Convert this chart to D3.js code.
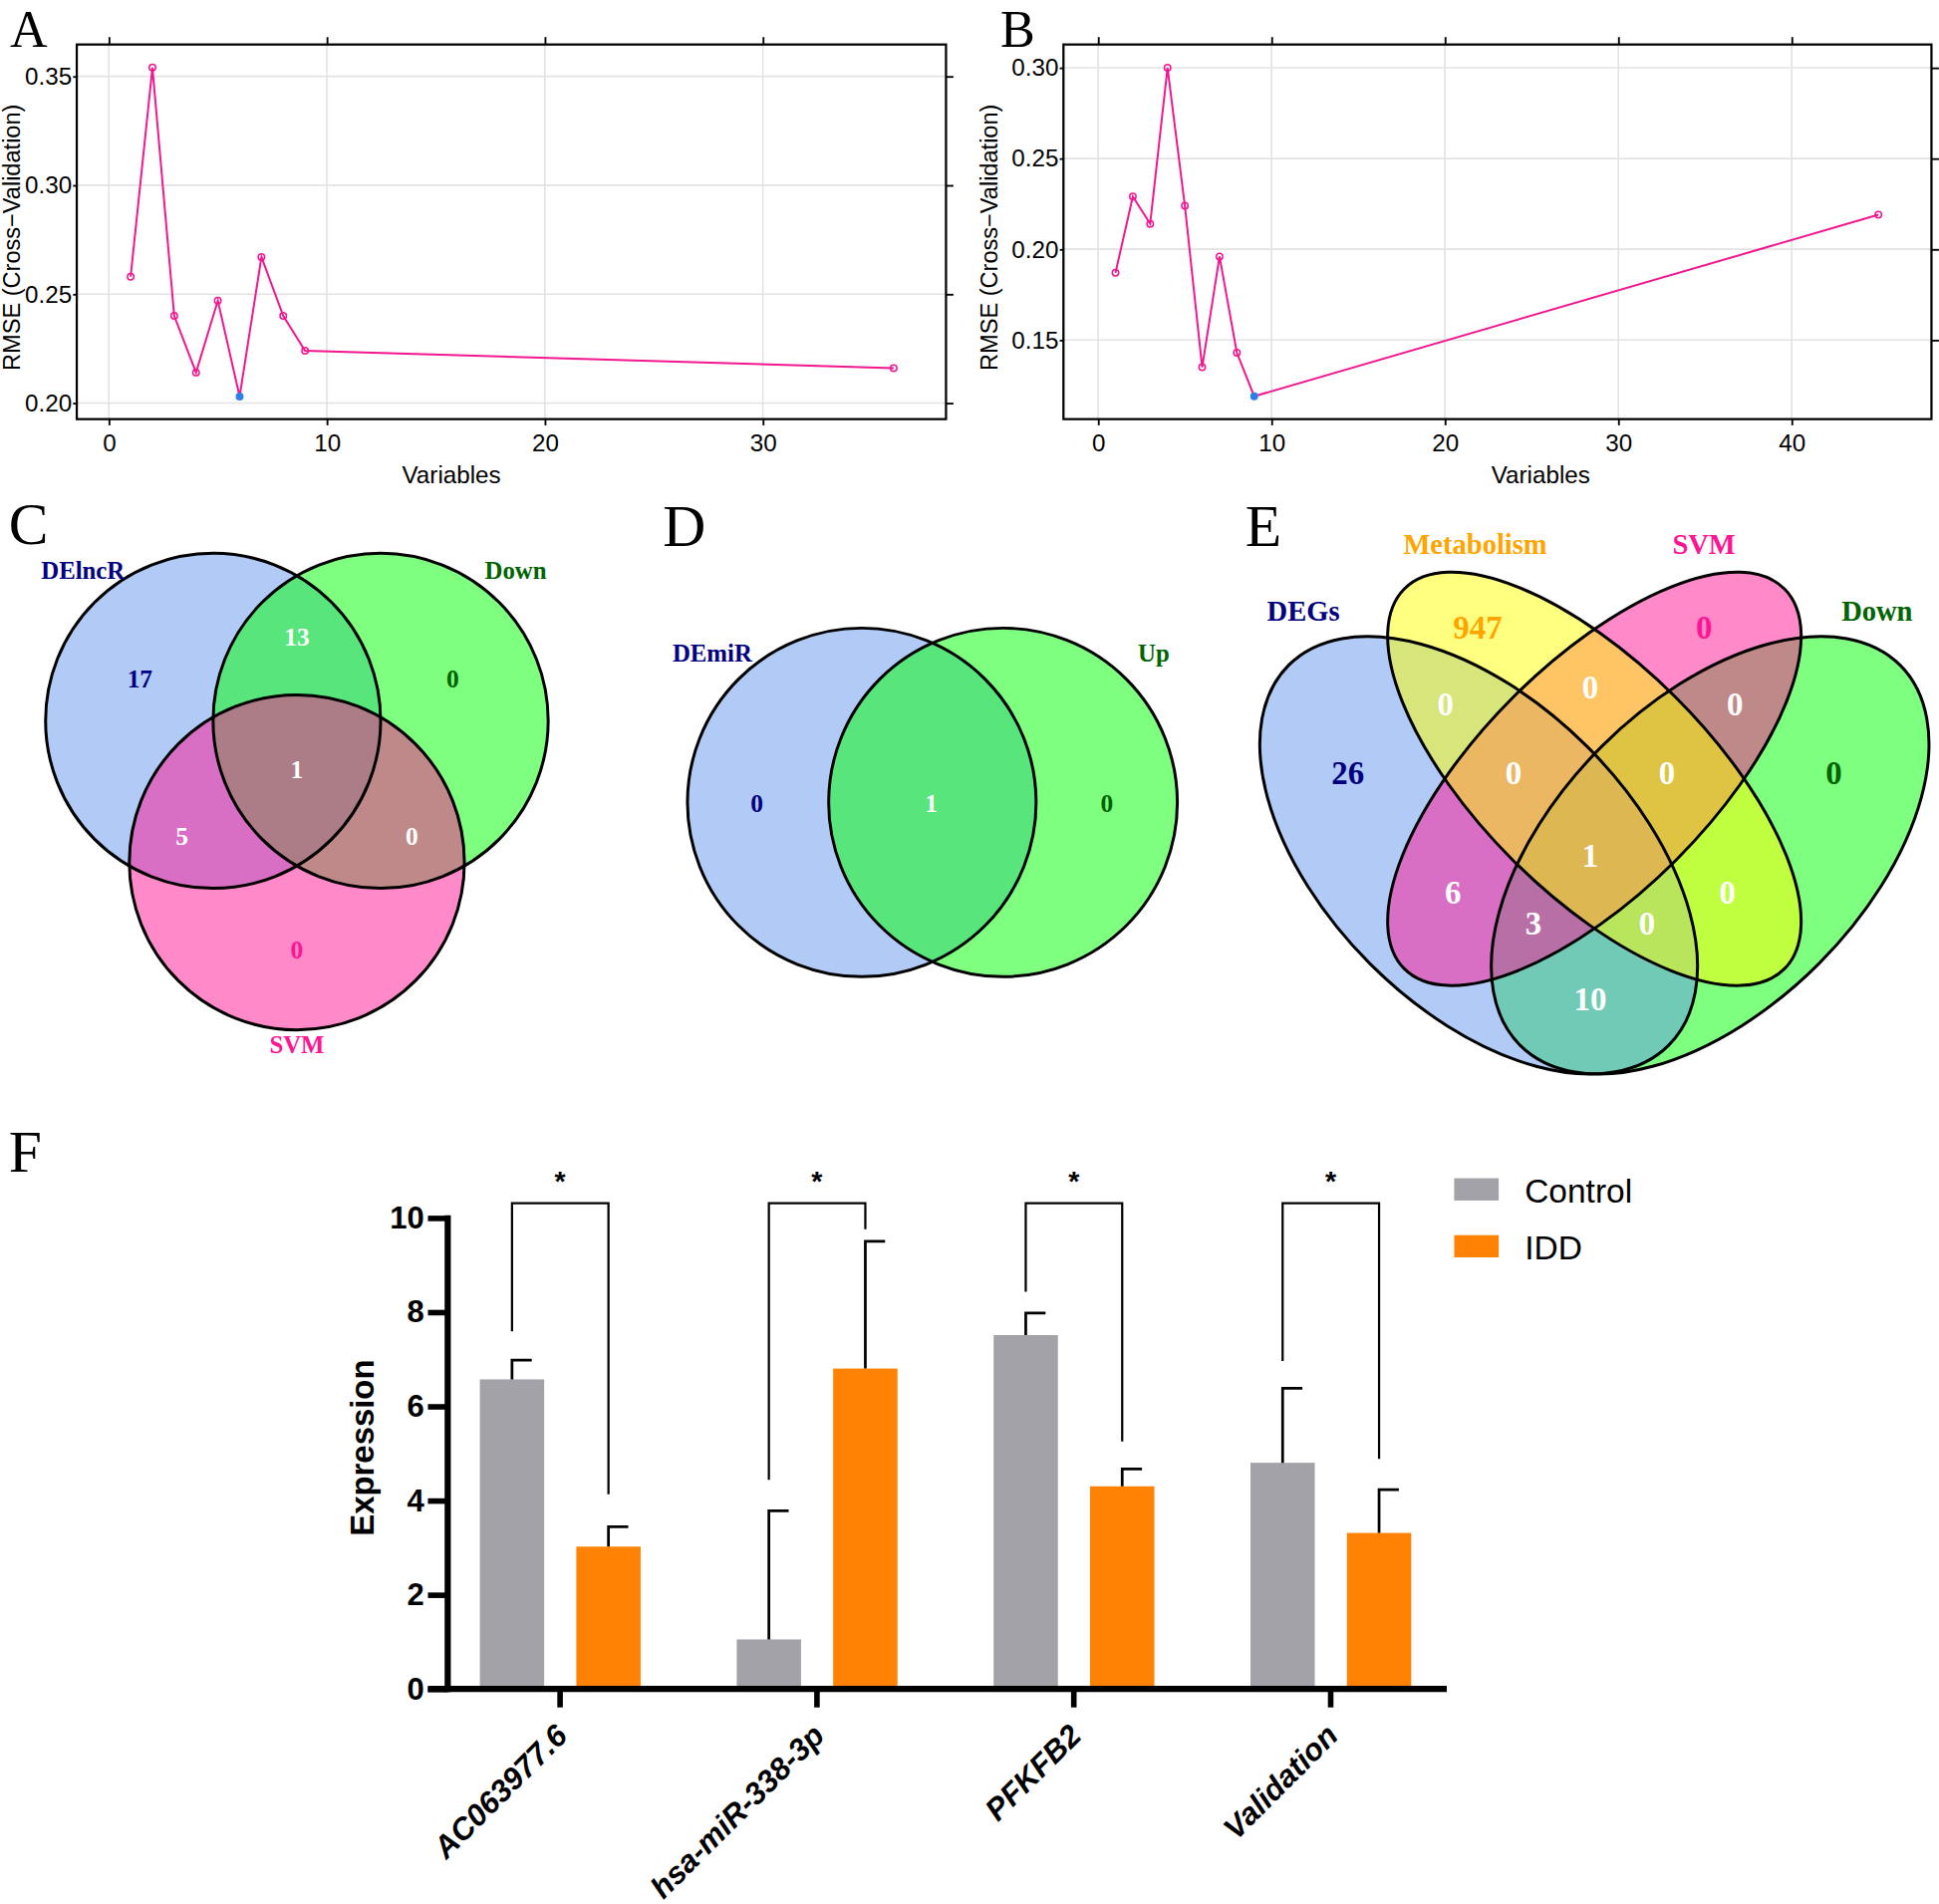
<!DOCTYPE html>
<html><head><meta charset="utf-8">
<script src="https://cdn.jsdelivr.net/npm/d3@7"></script>
<style>body{margin:0;background:#fff} svg{display:block;background:#fff}</style>
</head><body>
<svg id="c" width="1946" height="1911" viewBox="0 0 1568 1540"></svg>
<script>
// ---------------- DATA ----------------
const rfeA_vars = [1, 2, 3, 4, 5, 6, 7, 8, 9, 36];
const rfeA_rmse = [0.258, 0.354, 0.240, 0.214, 0.247, 0.203, 0.267, 0.240, 0.224, 0.216];
const rfeA_xTicks = [0, 10, 20, 30];
const rfeA_yTicks = [0.20, 0.25, 0.30, 0.35];

const rfeB_vars = [1, 2, 3, 4, 5, 6, 7, 8, 9, 45];
const rfeB_rmse = [0.187, 0.229, 0.214, 0.300, 0.224, 0.135, 0.196, 0.143, 0.119, 0.219];
const rfeB_xTicks = [0, 10, 20, 30, 40];
const rfeB_yTicks = [0.15, 0.20, 0.25, 0.30];

const vennC_sets = ["DElncR", "Down", "SVM"];
const vennC_regions = ["DElncR", "DElncR&Down", "Down", "DElncR&Down&SVM", "DElncR&SVM", "Down&SVM", "SVM"];
const vennC_counts = [17, 13, 0, 1, 5, 0, 0];

const vennD_sets = ["DEmiR", "Up"];
const vennD_regions = ["DEmiR", "DEmiR&Up", "Up"];
const vennD_counts = [0, 1, 0];

const vennE_sets = ["DEGs", "Metabolism", "SVM", "Down"];
const vennE_regions = ["DEGs", "Metabolism", "SVM", "Down",
  "DEGs&Metabolism", "Metabolism&SVM", "SVM&Down",
  "DEGs&Metabolism&SVM", "Metabolism&SVM&Down", "all",
  "DEGs&SVM", "DEGs&SVM&Down", "DEGs&Metabolism&Down", "Metabolism&Down", "DEGs&Down"];
const vennE_counts = [26, 947, 0, 0, 0, 0, 0, 0, 0, 1, 6, 3, 0, 0, 10];

const genes = ["AC063977.6", "hsa-miR-338-3p", "PFKFB2", "Validation"];
const groups = ["Control", "IDD"];
const controlMean = [6.57, 1.05, 7.51, 4.80];
const controlErr  = [0.41, 2.73, 0.47, 1.58];
const iddMean     = [3.02, 6.80, 4.30, 3.31];
const iddErr      = [0.42, 2.70, 0.37, 0.92];
const bracketLeft  = [7.59, 4.44, 8.43, 6.96];
const bracketRight = [4.13, 9.76, 5.25, 4.88];
const bracketTop = 10.31;
const expTicks = [0, 2, 4, 6, 8, 10];

// ---------------- DRAW ----------------
const svg = d3.select("#c");
const SANS = "'Liberation Sans', Arial, Helvetica, sans-serif";
const SERIF = "'Liberation Serif', 'Times New Roman', serif";
const PINK = "#f2168f";

function letter(t, x, y, s) {
  svg.append("text").attr("x", x).attr("y", y).text(t)
    .attr("font-family", SERIF).attr("font-size", s || 48).attr("fill", "#000");
}

function rfePanel(o) {
  const g = svg.append("g");
  const x = d3.scaleLinear().domain(o.xDom).range([o.left, o.right]);
  const y = d3.scaleLinear().domain(o.yDom).range([o.bottom, o.top]);
  g.selectAll(".gx").data(o.xTicks).join("line")
    .attr("x1", d => x(d)).attr("x2", d => x(d)).attr("y1", o.top).attr("y2", o.bottom)
    .attr("stroke", "#e3e3e3").attr("stroke-width", 1.3);
  g.selectAll(".gy").data(o.yTicks).join("line")
    .attr("y1", d => y(d)).attr("y2", d => y(d)).attr("x1", o.left).attr("x2", o.right)
    .attr("stroke", "#e3e3e3").attr("stroke-width", 1.3);
  g.append("rect").attr("x", o.left).attr("y", o.top)
    .attr("width", o.right - o.left).attr("height", o.bottom - o.top)
    .attr("fill", "none").attr("stroke", "#000").attr("stroke-width", 1.8);
  const top = g.append("g").attr("transform", `translate(0,${o.top})`)
    .call(d3.axisTop(x).tickValues(o.xTicks).tickSize(6).tickFormat(""));
  const right = g.append("g").attr("transform", `translate(${o.right},0)`)
    .call(d3.axisRight(y).tickValues(o.yTicks).tickSize(6).tickFormat(""));
  const bot = g.append("g").attr("transform", `translate(0,${o.bottom})`)
    .call(d3.axisBottom(x).tickValues(o.xTicks).tickSize(5).tickPadding(7).tickFormat(d3.format("d")));
  const lft = g.append("g").attr("transform", `translate(${o.left},0)`)
    .call(d3.axisLeft(y).tickValues(o.yTicks).tickSize(3).tickPadding(1).tickFormat(d3.format(".2f")));
  [top, right, bot, lft].forEach(a => {
    a.select(".domain").remove();
    a.selectAll("line").attr("stroke", "#000").attr("stroke-width", 1.5);
    a.selectAll("text").attr("font-family", SANS).attr("font-size", 19.5).attr("fill", "#000");
  });
  const pts = o.vars.map((v, i) => ({ x: v, y: o.rmse[i] }));
  const best = d3.minIndex(o.rmse);
  g.append("path").datum(pts)
    .attr("d", d3.line().x(d => x(d.x)).y(d => y(d.y)))
    .attr("fill", "none").attr("stroke", PINK).attr("stroke-width", 1.6);
  g.selectAll(".pt").data(pts).join("circle")
    .attr("cx", d => x(d.x)).attr("cy", d => y(d.y)).attr("r", 2.6)
    .attr("fill", (d, i) => i === best ? "#2f7fe8" : "none")
    .attr("stroke", (d, i) => i === best ? "#2f7fe8" : PINK).attr("stroke-width", 1.2);
  g.append("text").attr("x", o.xtitleX).attr("y", 391).attr("text-anchor", "middle")
    .attr("font-family", SANS).attr("font-size", 19.5).text("Variables");
  g.append("text").attr("transform", `translate(${o.ytitleX},192) rotate(-90)`)
    .attr("text-anchor", "middle").attr("dy", "0.35em")
    .attr("font-family", SANS).attr("font-size", 19).text("RMSE (Cross\u2212Validation)");
}

rfePanel({ vars: rfeA_vars, rmse: rfeA_rmse, xTicks: rfeA_xTicks, yTicks: rfeA_yTicks,
  xDom: [-1.47, 38.4], yDom: [0.1926, 0.3646], left: 62, right: 765, top: 36, bottom: 339,
  ytitleX: 9, xtitleX: 365 });
rfePanel({ vars: rfeB_vars, rmse: rfeB_rmse, xTicks: rfeB_xTicks, yTicks: rfeB_yTicks,
  xDom: [-2.0, 48.06], yDom: [0.1064, 0.3128], left: 860, right: 1562, top: 36, bottom: 339,
  ytitleX: 800, xtitleX: 1246 });

letter("A", 8, 38, 42); letter("B", 809, 38, 42);
letter("C", 7, 440); letter("D", 536, 442); letter("E", 1007, 442); letter("F", 7, 948);

// ---------- Venn helpers ----------
const setColors = { blue: "#6495ed", green: "#00ff00", pink: "#ff1493", yellow: "#ffff00" };
const labColors = { blue: "#000080", green: "#006400", pink: "#ff1493", yellow: "#ffa500", white: "#ffffff" };

function vtext(x, y, t, col, size) {
  svg.append("text").attr("x", x).attr("y", y).attr("text-anchor", "middle").attr("dy", "0.35em")
    .attr("font-family", SERIF).attr("font-weight", "bold").attr("font-size", size)
    .attr("fill", col).text(t);
}

// Panel C
{
  const k = d3.scaleLinear().domain([0, 1]).range([0, 135.5]);
  const ox = 240, oy = 583;
  const circ = [{ cx: -0.5, cy: 0, c: "blue" }, { cx: 0.5, cy: 0, c: "green" }, { cx: 0, cy: 0.845, c: "pink" }];
  const g = svg.append("g");
  g.selectAll(".f").data(circ).join("circle").attr("cx", d => ox + k(d.cx)).attr("cy", d => oy + k(d.cy))
    .attr("r", k(1)).attr("fill", d => setColors[d.c]).attr("fill-opacity", 0.5);
  g.selectAll(".s").data(circ).join("circle").attr("cx", d => ox + k(d.cx)).attr("cy", d => oy + k(d.cy))
    .attr("r", k(1)).attr("fill", "none").attr("stroke", "#000").attr("stroke-width", 2.4);
  const pos = [[113, 549, "blue"], [240, 515, "white"], [366, 549, "green"], [240, 622, "white"],
               [147, 676, "white"], [333, 676, "white"], [240, 768, "pink"]];
  vennC_counts.forEach((v, i) => vtext(pos[i][0], pos[i][1], v, labColors[pos[i][2]], 20.5));
  const lp = [[67, 461, "blue"], [417, 461, "green"], [240, 845, "pink"]];
  vennC_sets.forEach((s, i) => vtext(lp[i][0], lp[i][1], s, labColors[lp[i][2]], 20));
}

// Panel D
{
  const k = d3.scaleLinear().domain([0, 1]).range([0, 141]);
  const ox = 754, oy = 649;
  const circ = [{ cx: -0.405, c: "blue" }, { cx: 0.405, c: "green" }];
  const g = svg.append("g");
  g.selectAll(".f").data(circ).join("circle").attr("cx", d => ox + k(d.cx)).attr("cy", oy)
    .attr("r", k(1)).attr("fill", d => setColors[d.c]).attr("fill-opacity", 0.5);
  g.selectAll(".s").data(circ).join("circle").attr("cx", d => ox + k(d.cx)).attr("cy", oy)
    .attr("r", k(1)).attr("fill", "none").attr("stroke", "#000").attr("stroke-width", 2.4);
  const pos = [[612, 650, "blue"], [753, 650, "white"], [895, 650, "green"]];
  vennD_counts.forEach((v, i) => vtext(pos[i][0], pos[i][1], v, labColors[pos[i][2]], 20.5));
  const lp = [[576, 528, "blue"], [933, 528, "green"]];
  vennD_sets.forEach((s, i) => vtext(lp[i][0], lp[i][1], s, labColors[lp[i][2]], 20));
}

// Panel E
{
  const ex = d3.scaleLinear().domain([0, 1]).range([977.4, 1601.4]);
  const ey = d3.scaleLinear().domain([0, 1]).range([982.2, 364.2]);
  const k = 621;
  // drawn in the reference's stacking order: Down, DEGs, SVM, Metabolism
  const ell = [{ x: 0.65, y: 0.47, a: 0.35, b: 0.2, rot: -45, c: "green" },
               { x: 0.35, y: 0.47, a: 0.35, b: 0.2, rot: 45, c: "blue" },
               { x: 0.5, y: 0.57, a: 0.35, b: 0.15, rot: -45, c: "pink" },
               { x: 0.5, y: 0.57, a: 0.35, b: 0.15, rot: 45, c: "yellow" }];
  const g = svg.append("g");
  const tr = d => `translate(${ex(d.x)},${ey(d.y)}) rotate(${d.rot})`;
  g.selectAll(".f").data(ell).join("ellipse").attr("transform", tr)
    .attr("rx", d => d.a * k).attr("ry", d => d.b * k)
    .attr("fill", d => setColors[d.c]).attr("fill-opacity", 0.5);
  g.selectAll(".s").data(ell).join("ellipse").attr("transform", tr)
    .attr("rx", d => d.a * k).attr("ry", d => d.b * k)
    .attr("fill", "none").attr("stroke", "#000").attr("stroke-width", 2.4);
  const pos = [[1090, 625, "blue"], [1195, 507, "yellow"], [1378, 507, "pink"], [1483, 625, "green"],
    [1169, 569, "white"], [1286, 556, "white"], [1403, 569, "white"],
    [1224, 625, "white"], [1348, 625, "white"], [1286, 692, "white"],
    [1175, 722, "white"], [1240, 747, "white"], [1332, 747, "white"], [1397, 722, "white"], [1286, 808, "white"]];
  vennE_counts.forEach((v, i) => vtext(pos[i][0], pos[i][1], v, labColors[pos[i][2]], 26.5));
  const lp = [[1054, 494, "blue"], [1193, 440, "yellow"], [1378, 440, "pink"], [1518, 494, "green"]];
  vennE_sets.forEach((s, i) => vtext(lp[i][0], lp[i][1], s, labColors[lp[i][2]], 23));
}

// ---------- Panel F ----------
{
  const g = svg.append("g");
  const AX = 362;
  const x0 = d3.scaleBand().domain(genes).range([349, 1180]);
  const x1 = d3.scaleBand().domain(groups).range([39, 169]).paddingInner(1 / 3);
  const y = d3.scaleLinear().domain([0, 10]).range([1366, 985]);
  const colors = { Control: "#a2a2a8", IDD: "#ff8205" };
  const rows = genes.map((gname, i) => ({ gene: gname, vals: [
    { grp: "Control", m: controlMean[i], e: controlErr[i] },
    { grp: "IDD", m: iddMean[i], e: iddErr[i] }] }));
  const gg = g.selectAll(".grp").data(rows).join("g")
    .attr("transform", d => `translate(${x0(d.gene)},0)`);
  gg.selectAll("rect").data(d => d.vals).join("rect")
    .attr("x", d => x1(d.grp)).attr("width", x1.bandwidth())
    .attr("y", d => y(d.m)).attr("height", d => y(0) - y(d.m)).attr("fill", d => colors[d.grp]);
  const cx = d => x1(d.grp) + x1.bandwidth() / 2;
  gg.selectAll(".eb").data(d => d.vals).join("path")
    .attr("d", d => `M${cx(d)},${y(d.m)}V${y(d.m + d.e)}H${cx(d) + 16}`)
    .attr("fill", "none").attr("stroke", "#000").attr("stroke-width", 2.2);
  const gc = () => x1("Control") + x1.bandwidth() / 2;
  const ic = () => x1("IDD") + x1.bandwidth() / 2;
  gg.append("path")
    .attr("d", (d, i) => `M${gc()},${y(bracketLeft[i])}V${y(bracketTop)}H${ic()}V${y(bracketRight[i])}`)
    .attr("fill", "none").attr("stroke", "#000").attr("stroke-width", 1.8);
  gg.append("text").attr("x", x0.bandwidth() / 2).attr("y", 963).attr("text-anchor", "middle")
    .attr("font-family", SANS).attr("font-weight", "bold").attr("font-size", 23).text("*");

  // axes
  const ya = g.append("g").attr("transform", `translate(${AX},0)`)
    .call(d3.axisLeft(y).tickValues(expTicks).tickSize(16).tickPadding(3).tickFormat(d3.format("d")));
  ya.select(".domain").remove();
  ya.selectAll("line").attr("stroke", "#000").attr("stroke-width", 4.5);
  ya.selectAll("text").attr("font-family", SANS).attr("font-weight", "bold").attr("font-size", 25).attr("fill", "#000");
  g.append("line").attr("x1", AX).attr("x2", AX).attr("y1", y(10) - 2).attr("y2", y(0) + 2.5)
    .attr("stroke", "#000").attr("stroke-width", 5);
  const xa = g.append("g").attr("transform", "translate(0,1366)")
    .call(d3.axisBottom(x0).tickSize(15).tickFormat(""));
  xa.select(".domain").remove();
  xa.selectAll("line").attr("stroke", "#000").attr("stroke-width", 4.5);
  g.append("line").attr("x1", AX - 16).attr("x2", 1170).attr("y1", 1366).attr("y2", 1366)
    .attr("stroke", "#000").attr("stroke-width", 5);
  g.selectAll(".xl").data(genes).join("text")
    .attr("transform", d => `translate(${x0(d) + x0.bandwidth() / 2 - 5},1393) rotate(-45)`)
    .attr("text-anchor", "end").attr("dy", "0.7em")
    .attr("font-family", SANS).attr("font-weight", "bold").attr("font-style", "italic")
    .attr("font-size", 25).text(d => d);
  g.append("text").attr("transform", "translate(293,1171) rotate(-90)").attr("text-anchor", "middle")
    .attr("dy", "0.35em").attr("font-family", SANS).attr("font-weight", "bold").attr("font-size", 26.5)
    .text("Expression");

  // legend
  const lg = g.selectAll(".lg").data(groups).join("g")
    .attr("transform", (d, i) => `translate(1176,${953 + i * 46})`);
  lg.append("rect").attr("width", 36).attr("height", 18).attr("fill", d => colors[d]);
  lg.append("text").attr("x", 57).attr("y", 10).attr("dy", "0.35em")
    .attr("font-family", SANS).attr("font-size", 27).text(d => d);
}
</script>
</body></html>
